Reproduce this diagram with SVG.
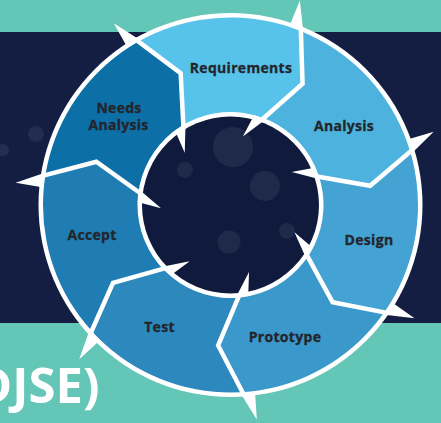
<svg xmlns="http://www.w3.org/2000/svg" xmlns:xlink="http://www.w3.org/1999/xlink" width="441" height="423" viewBox="0 0 441 423">
<defs>
<style>
.lbl{font-family:"Open Sans","Liberation Sans",sans-serif;font-weight:700;font-size:14px;fill:#23252b;stroke:#23252b;stroke-width:0.3px;text-anchor:middle;letter-spacing:0.3px}
.bok{fill:#ffffff;fill-opacity:0.07}
.bd{fill:none;stroke:#ffffff;stroke-width:4.5;stroke-linejoin:miter}
.sp{fill:#ffffff}
.title{font-family:"Open Sans","Liberation Sans",sans-serif;font-weight:700;font-size:49px;fill:#ffffff}
</style>
<clipPath id="ann"><path clip-rule="evenodd" d="M-187.5 0A187.5 187.5 0 1 0 187.5 0A187.5 187.5 0 1 0 -187.5 0ZM-93 0A93 93 0 1 0 93 0A93 93 0 1 0 -93 0Z"/></clipPath>
<path id="seg" d="M211.28 -44.91L291.5 71L166.84 137.19L87.91 110.24L59.62 35.72L0 0L65.1 -24.34L141 0Z"/>
<g id="bnd">
<polyline class="bd" points="188.8,-30.5 141,0 88.2,-16.9"/>
<polygon class="sp" points="211.28,-44.91 187.2,-26.85 183.5,-40.7"/>
<polygon class="sp" points="65.1,-24.34 91,-13.7 89.4,-25.6"/>
</g>
</defs>
<rect x="0" y="0" width="441" height="423" fill="#63c6b7"/>
<rect x="0" y="32" width="441" height="291" fill="#131e42"/>
<circle class="bok" cx="36" cy="134" r="8"/>
<circle class="bok" cx="3" cy="150" r="6"/>
<circle cx="230.5" cy="205" r="192" fill="#ffffff"/>
<g id="node-requirements">
<g transform="translate(230.5 205)"><use xlink:href="#seg" href="#seg" transform="rotate(-110.7)" fill="#58c3ea" clip-path="url(#ann)"/></g>
<text class="lbl" x="241" y="73">Requirements</text>
</g>
<g id="node-analysis">
<g transform="translate(230.5 205)"><use xlink:href="#seg" href="#seg" transform="rotate(-59.27)" fill="#4db3de" clip-path="url(#ann)"/></g>
<text class="lbl" x="344" y="131">Analysis</text>
</g>
<g id="node-design">
<g transform="translate(230.5 205)"><use xlink:href="#seg" href="#seg" transform="rotate(-7.84)" fill="#44a3d3" clip-path="url(#ann)"/></g>
<text class="lbl" x="369" y="245">Design</text>
</g>
<g id="node-prototype">
<g transform="translate(230.5 205)"><use xlink:href="#seg" href="#seg" transform="rotate(43.59)" fill="#3a98ca" clip-path="url(#ann)"/></g>
<text class="lbl" x="285" y="342">Prototype</text>
</g>
<g id="node-test">
<g transform="translate(230.5 205)"><use xlink:href="#seg" href="#seg" transform="rotate(95.02)" fill="#2d89bd" clip-path="url(#ann)"/></g>
<text class="lbl" x="159.5" y="332">Test</text>
</g>
<g id="node-accept">
<g transform="translate(230.5 205)"><use xlink:href="#seg" href="#seg" transform="rotate(146.45)" fill="#1f7db3" clip-path="url(#ann)"/></g>
<text class="lbl" x="92" y="240">Accept</text>
</g>
<g id="node-needs-analysis">
<g transform="translate(230.5 205)"><use xlink:href="#seg" href="#seg" transform="rotate(197.88)" fill="#0c70a7" clip-path="url(#ann)"/></g>
<text class="lbl" x="119" y="112.5">Needs</text>
<text class="lbl" x="118.5" y="130">Analysis</text>
</g>
<g id="hub">
<circle cx="230.5" cy="205" r="88.5" fill="#0f1a3d"/>
<circle class="bok" cx="233" cy="147" r="20"/>
<circle class="bok" cx="265" cy="186" r="15"/>
<circle class="bok" cx="185" cy="170" r="8"/>
<circle class="bok" cx="229" cy="242" r="11.5"/>
<circle class="bok" cx="287" cy="231" r="8"/>
</g>
<g id="connectors" transform="translate(230.5 205)">
<use xlink:href="#bnd" href="#bnd" transform="rotate(-110.7)"/>
<use xlink:href="#bnd" href="#bnd" transform="rotate(-59.27)"/>
<use xlink:href="#bnd" href="#bnd" transform="rotate(-7.84)"/>
<use xlink:href="#bnd" href="#bnd" transform="rotate(43.59)"/>
<use xlink:href="#bnd" href="#bnd" transform="rotate(95.02)"/>
<use xlink:href="#bnd" href="#bnd" transform="rotate(146.45)"/>
<use xlink:href="#bnd" href="#bnd" transform="rotate(197.88)"/>
</g>
<text class="title" x="-24" y="403">DJSE)</text>
</svg>
